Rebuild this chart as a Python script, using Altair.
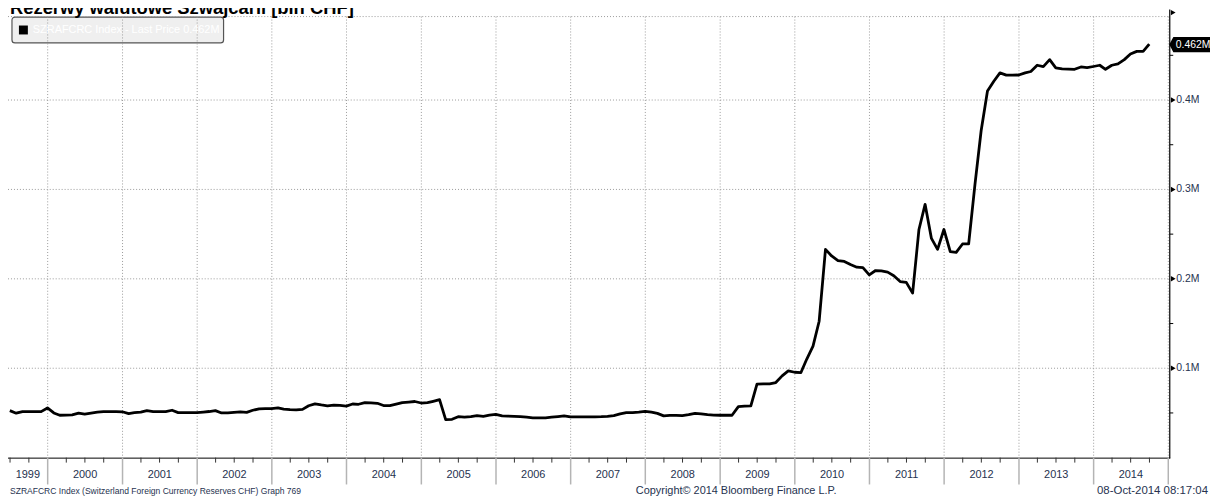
import altair as alt
import pandas as pd

# ---------------- text ----------------
title_text = "Rezerwy walutowe Szwajcarii [bln CHF]"
legend_text = "SZRAFCRC Index - Last Price 0.462M"
footer_left = "SZRAFCRC Index (Switzerland Foreign Currency Reserves CHF) Graph 769"
footer_mid = "Copyright\u00a9 2014 Bloomberg Finance L.P."
footer_right = "08-Oct-2014 08:17:04"
last_label = "0.462M"
last_value = 0.462

# ---------------- data (millions of CHF millions, i.e. "M") ----------------
values_1999 = [0.0526, 0.0497, 0.0515, 0.0515, 0.0515, 0.0515, 0.0556]  # Jun-Dec
values_2000 = [0.0500, 0.0474, 0.0476, 0.0478, 0.0497, 0.0487, 0.0498, 0.0508, 0.0515, 0.0515, 0.0515, 0.0513]
values_2001 = [0.0493, 0.0503, 0.0510, 0.0526, 0.0515, 0.0515, 0.0515, 0.0530, 0.0504, 0.0504, 0.0504, 0.0504]
values_2002 = [0.0510, 0.0516, 0.0526, 0.0500, 0.0500, 0.0506, 0.0512, 0.0506, 0.0530, 0.0546, 0.0548, 0.0548]
values_2003 = [0.0556, 0.0542, 0.0537, 0.0535, 0.0540, 0.0580, 0.0602, 0.0590, 0.0580, 0.0588, 0.0585, 0.0577]
values_2004 = [0.0600, 0.0597, 0.0615, 0.0613, 0.0608, 0.0583, 0.0581, 0.0598, 0.0615, 0.0622, 0.0628, 0.0611]
values_2005 = [0.0615, 0.0630, 0.0648, 0.0426, 0.0429, 0.0458, 0.0452, 0.0460, 0.0470, 0.0462, 0.0475, 0.0485]
values_2006 = [0.0468, 0.0465, 0.0462, 0.0458, 0.0452, 0.0445, 0.0444, 0.0445, 0.0453, 0.0460, 0.0467, 0.0457]
values_2007 = [0.0456, 0.0456, 0.0456, 0.0456, 0.0458, 0.0462, 0.0470, 0.0490, 0.0504, 0.0504, 0.0510, 0.0518]
values_2008 = [0.0508, 0.0495, 0.0467, 0.0472, 0.0473, 0.0470, 0.0480, 0.0496, 0.0490, 0.0480, 0.0476, 0.0474]
values_2009 = [0.0474, 0.0474, 0.0570, 0.0575, 0.0580, 0.0822, 0.0824, 0.0826, 0.0840, 0.0915, 0.0970, 0.0955]
values_2010 = [0.0952, 0.1100, 0.1248, 0.1526, 0.2330, 0.2256, 0.2204, 0.2194, 0.2160, 0.2130, 0.2125, 0.2044]
values_2011 = [0.2093, 0.2088, 0.2075, 0.2035, 0.1970, 0.1960, 0.1840, 0.2552, 0.2833, 0.2452, 0.2330, 0.2552]
values_2012 = [0.2304, 0.2296, 0.2390, 0.2390, 0.3060, 0.3656, 0.4100, 0.4210, 0.4304, 0.4278, 0.4278, 0.4280]
values_2013 = [0.4304, 0.4319, 0.4389, 0.4374, 0.4452, 0.4359, 0.4348, 0.4346, 0.4344, 0.4370, 0.4362, 0.4375]
values_2014 = [0.4389, 0.4344, 0.4389, 0.4404, 0.4452, 0.4515, 0.4544, 0.4544, 0.4626]  # Jan-Sep

reserves = (values_1999 + values_2000 + values_2001 + values_2002 + values_2003 + values_2004
            + values_2005 + values_2006 + values_2007 + values_2008 + values_2009 + values_2010
            + values_2011 + values_2012 + values_2013 + values_2014)

month_ends = pd.date_range("1999-07-01", periods=len(reserves), freq="MS") - pd.Timedelta(days=1)
dates = [d.strftime("%Y-%m-%dT00:00:00") for d in month_ends]

grid_years = list(range(2000, 2016))
label_years = [str(y) for y in range(1999, 2015)]
label_dates = ["1999-09-26T00:00:00"] + [f"{y}-07-02T00:00:00" for y in range(2000, 2015)]
quarter_dates = [d.strftime("%Y-%m-%dT00:00:00")
                 for d in pd.date_range("1999-07-01", "2014-12-31", freq="QS") if d.month != 1]
y_major = [0.1, 0.2, 0.3, 0.4]
y_major_labels = ["0.1M", "0.2M", "0.3M", "0.4M"]
y_minor = [0.05, 0.15, 0.25, 0.35, 0.45]

# ---------------- layout ----------------
W, H = 1168, 444
YMAX = H / 900.0
NAVY = "#26324f"
GRID = "#9a9a9a"
FONT = "Liberation Sans"

xs = alt.Scale(domain=[alt.DateTime(year=1999, month=6, date=21),
                       alt.DateTime(year=2015, month=1, date=1)])
ys = alt.Scale(domain=[0, YMAX])

line_df = pd.DataFrame({"date": dates, "value": reserves})
vgrid_df = pd.DataFrame({"d": [f"{y}-01-01T00:00:00" for y in grid_years]})
hgrid_df = pd.DataFrame({"v": y_major + [YMAX]})
qt_df = pd.DataFrame({"d": quarter_dates})
ylab_df = pd.DataFrame({"d": label_dates, "label": label_years})
major_df = pd.DataFrame({"v": y_major, "lab": y_major_labels})
minor_df = pd.DataFrame({"v": y_minor})
last_df = pd.DataFrame({"v": [last_value], "lab": [last_label]})
one = pd.DataFrame({"k": [0]})


def X(field):
    return alt.X(field, type="temporal", scale=xs, axis=None)


def Y(field):
    return alt.Y(field, type="quantitative", scale=ys, axis=None)


legend_box = alt.Chart(one).mark_rect(fill="#efefef", stroke="#555555", strokeWidth=1.2,
                                      cornerRadius=3).encode(
    x=alt.value(4), x2=alt.value(217), y=alt.value(0.5), y2=alt.value(26.5))

vgrid = alt.Chart(vgrid_df).mark_rule(color=GRID, strokeDash=[1, 2], strokeWidth=1).encode(
    x=X("d"), y=alt.value(0), y2=alt.value(H))

hgrid = alt.Chart(hgrid_df).mark_rule(color=GRID, strokeDash=[1, 2], strokeWidth=1).encode(
    y=Y("v"), x=alt.value(0), x2=alt.value(W))

legend_sq = alt.Chart(one).mark_square(size=81, color="black", filled=True, opacity=1).encode(
    x=alt.value(15.5), y=alt.value(13.5))

legend_txt = alt.Chart(one).mark_text(align="left", baseline="middle", fontSize=11, font=FONT,
                                      color="white", text=legend_text).encode(
    x=alt.value(25), y=alt.value(13.5))

line = alt.Chart(line_df).mark_line(color="black", strokeWidth=2.8, strokeJoin="round").encode(
    x=X("date"), y=Y("value"))

x_axis_line = alt.Chart(one).mark_rule(color="black", strokeWidth=1).encode(
    x=alt.value(0), x2=alt.value(W + 2), y=alt.value(H + 0.5))

q_ticks = alt.Chart(qt_df).mark_rule(color="#333333", strokeWidth=1).encode(
    x=X("d"), y=alt.value(H), y2=alt.value(H + 5))

year_sep = alt.Chart(vgrid_df).mark_rule(color="#b4b4b4", strokeWidth=1.5).encode(
    x=X("d"), y=alt.value(H), y2=alt.value(H + 27))

year_lab = alt.Chart(ylab_df).mark_text(baseline="middle", fontSize=11, font=FONT,
                                        color=NAVY).encode(
    x=X("d"), y=alt.value(H + 17), text="label:N")

y_axis_line = alt.Chart(one).mark_rule(color="black", strokeWidth=1.2).encode(
    x=alt.value(W + 1.5), y=alt.value(-7), y2=alt.value(H + 0.5))

minor_ticks = alt.Chart(minor_df).mark_rule(color="black", strokeWidth=1).encode(
    y=Y("v"), x=alt.value(W + 1.5), x2=alt.value(W + 5))

major_marks = alt.Chart(major_df).mark_point(shape="triangle-right", filled=True, color="black",
                                             size=30, opacity=1).encode(
    y=Y("v"), x=alt.value(W + 5))

major_labs = alt.Chart(major_df).mark_text(align="left", baseline="middle", fontSize=10.5,
                                           font=FONT, color=NAVY).encode(
    y=Y("v"), x=alt.value(W + 8), text="lab:N")

top_arrow = alt.Chart(one).mark_point(shape="triangle-right", filled=True, color="black",
                                      size=30, opacity=1).encode(
    x=alt.value(W + 5), y=alt.value(-4))

last_box = alt.Chart(last_df).mark_point(
    shape="M-1,0 L-0.8,-0.37 L1,-0.37 L1,0.37 L-0.8,0.37 Z",
    filled=True, color="black", size=41 * 41, opacity=1).encode(
    y=Y("v"), x=alt.value(W + 21.5))

last_txt = alt.Chart(last_df).mark_text(align="left", baseline="middle", fontSize=10.5, font=FONT,
                                        color="white").encode(
    y=Y("v"), x=alt.value(W + 7.5), text="lab:N")

title = alt.Chart(one).mark_text(align="left", baseline="alphabetic", fontSize=18.5,
                                 fontWeight="bold", font=FONT, color="black",
                                 text=title_text).encode(
    x=alt.value(2), y=alt.value(-3))

foot_l = alt.Chart(one).mark_text(align="left", baseline="alphabetic", fontSize=8.6, font=FONT,
                                  color=NAVY, text=footer_left).encode(
    x=alt.value(2), y=alt.value(H + 37))
foot_m = alt.Chart(one).mark_text(align="left", baseline="alphabetic", fontSize=11, font=FONT,
                                  color=NAVY, text=footer_mid).encode(
    x=alt.value(632), y=alt.value(H + 37))
foot_r = alt.Chart(one).mark_text(align="right", baseline="alphabetic", fontSize=11.5, font=FONT,
                                  color=NAVY, text=footer_right).encode(
    x=alt.value(W + 40), y=alt.value(H + 37))

chart = alt.layer(
    legend_box, vgrid, hgrid, legend_sq, legend_txt, line,
    x_axis_line, q_ticks, year_sep, year_lab,
    y_axis_line, minor_ticks, major_marks, major_labs, top_arrow,
    last_box, last_txt, title, foot_l, foot_m, foot_r,
).properties(
    width=W, height=H,
    autosize=alt.AutoSizeParams(type="none"),
    padding={"left": 0, "top": 7, "right": 42, "bottom": 40},
    background="white",
).configure_view(stroke=None)

chart.save("out.html", embed_options={"renderer": "svg", "actions": False})
